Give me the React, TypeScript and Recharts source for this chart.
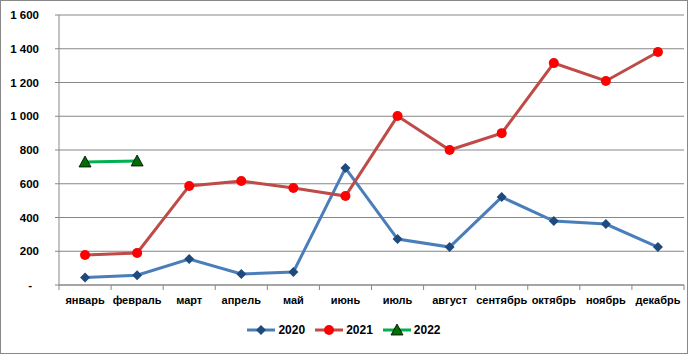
import { CartesianGrid, Line, LineChart, XAxis, YAxis } from 'recharts';

const months = [
  'январь', 'февраль', 'март', 'апрель', 'май', 'июнь',
  'июль', 'август', 'сентябрь', 'октябрь', 'ноябрь', 'декабрь',
];
const values2020 = [45, 58, 154, 65, 77, 693, 272, 225, 521, 379, 361, 225];
const values2021 = [178, 190, 587, 616, 575, 527, 1001, 800, 900, 1315, 1209, 1381];
const values2022 = [729, 735];
const yTicks = [0, 200, 400, 600, 800, 1000, 1200, 1400, 1600];
// integer positions = category boundaries (tick marks), halves = month labels
const xTicks = Array.from({ length: 25 }, (_, i) => i / 2);

const data = months.map((m, i) => ({
  x: i + 0.5,
  month: m,
  y2020: values2020[i],
  y2021: values2021[i],
  y2022: i < values2022.length ? values2022[i] : null,
}));

const FONT = "'Liberation Sans', Arial, sans-serif";
const GRID = '#878787';

const fmt = (v: number) =>
  v === 0 ? '-' : String(v).replace(/\B(?=(\d{3})+(?!\d))/g, ' ');

function XTick({ x, y, payload }: any) {
  const v = payload.value as number;
  if (Number.isInteger(v)) {
    return <line x1={x} y1={y} x2={x} y2={y + 5} stroke={GRID} />;
  }
  return (
    <text x={x} y={y + 19} textAnchor="middle" fontSize={11} fontWeight={700} fontFamily={FONT} fill="#000">
      {months[Math.floor(v)]}
    </text>
  );
}

function YTick({ x, y, payload }: any) {
  const v = payload.value as number;
  return (
    <text
      x={v === 0 ? x - 23 : x - 16}
      y={y + 4}
      textAnchor="end"
      fontSize={11.5}
      fontWeight={700}
      fontFamily={FONT}
      fill="#000"
    >
      {fmt(v)}
    </text>
  );
}

const Diamond = ({ cx, cy }: any) =>
  cx == null || cy == null ? null : (
    <polygon points={`${cx},${cy - 5} ${cx + 5},${cy} ${cx},${cy + 5} ${cx - 5},${cy}`} fill="#1F4A7E" />
  );
const Circle = ({ cx, cy }: any) =>
  cx == null || cy == null ? null : <circle cx={cx} cy={cy} r={5} fill="#FF0000" />;
const Triangle = ({ cx, cy }: any) =>
  cx == null || cy == null ? null : (
    <polygon points={`${cx},${cy - 6} ${cx + 6},${cy + 5} ${cx - 6},${cy + 5}`} fill="#006E00" stroke="#000" strokeWidth={0.8} />
  );

const legendItems = [
  { label: '2020', color: '#4A7EBB', Mark: Diamond },
  { label: '2021', color: '#BE4B48', Mark: Circle },
  { label: '2022', color: '#00B050', Mark: Triangle },
];

export default function App() {
  return (
    <div
      style={{
        position: 'absolute',
        left: 0,
        top: 0,
        width: 688,
        height: 354,
        boxSizing: 'border-box',
        border: '1px solid #898989',
        background: '#fff',
      }}
    >
      <LineChart width={686} height={352} data={data} margin={{ top: 14, right: 3, bottom: 38, left: 0 }}>
        <CartesianGrid vertical={false} stroke={GRID} strokeDasharray="" />
        <XAxis
          dataKey="x"
          type="number"
          domain={[0, 12]}
          ticks={xTicks}
          interval={0}
          tickSize={0}
          tickMargin={0}
          tickLine={false}
          tick={<XTick />}
          stroke={GRID}
          height={30}
        />
        <YAxis
          type="number"
          domain={[0, 1600]}
          ticks={yTicks}
          interval={0}
          width={58}
          tickSize={4}
          tickMargin={0}
          tick={<YTick />}
          stroke={GRID}
        />
        <Line dataKey="y2020" stroke="#4A7EBB" strokeWidth={3} dot={<Diamond />} activeDot={false} isAnimationActive={false} />
        <Line dataKey="y2021" stroke="#BE4B48" strokeWidth={3} dot={<Circle />} activeDot={false} isAnimationActive={false} />
        <Line dataKey="y2022" stroke="#00B050" strokeWidth={3} dot={<Triangle />} activeDot={false} isAnimationActive={false} />
      </LineChart>
      <div
        style={{
          position: 'absolute',
          top: 322,
          left: 0,
          width: 686,
          display: 'flex',
          justifyContent: 'center',
          gap: 10,
          fontFamily: FONT,
          fontWeight: 700,
          fontSize: 12,
        }}
      >
        {legendItems.map(({ label, color, Mark }) => (
          <div key={label} style={{ display: 'flex', alignItems: 'center', gap: 3 }}>
            <svg width={28} height={14}>
              <line x1={0} y1={7} x2={28} y2={7} stroke={color} strokeWidth={3} />
              <Mark cx={14} cy={7} />
            </svg>
            <span>{label}</span>
          </div>
        ))}
      </div>
    </div>
  );
}
